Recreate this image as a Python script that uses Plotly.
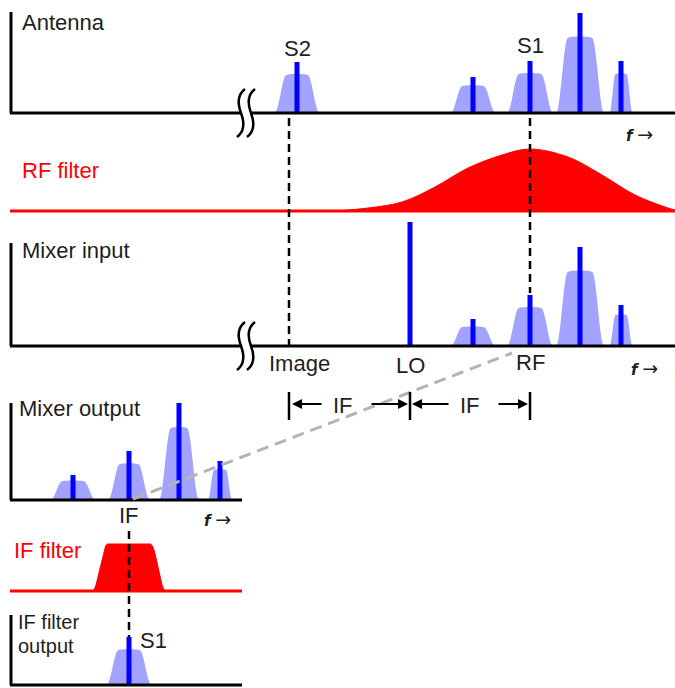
import math
import plotly.graph_objects as go

W, H = 675, 688

# ---------------- data (frequencies in arbitrary units, levels in arbitrary units) -------------
# Antenna spectrum
ant_freq = [29.7, 47.3, 53.0, 58.0, 62.1]
ant_band_level = [3.8, 2.7, 3.9, 7.5, 3.9]
ant_carrier = [5.1, 3.6, 5.2, 10.0, 5.2]
ant_width = [4.5, 4.5, 4.6, 4.8, 2.3]
ant_labels = ["S2", "", "S1", "", ""]

# RF filter response
rf_filter_f = [33.5, 36.8, 40.2, 43.5, 46.8, 50.2, 53.0, 56.8, 60.2, 63.5, 66.8, 67.5]
rf_filter_g = [0.0, 0.3, 0.9, 2.4, 4.3, 5.6, 6.2, 5.4, 3.6, 1.6, 0.3, 0.1]

# Mixer input
mix_in_freq = [47.3, 53.0, 58.0, 62.1]
mix_in_band_level = [1.9, 3.8, 7.4, 3.1]
mix_in_carrier = [2.7, 5.1, 9.9, 4.1]
mix_in_width = [4.5, 4.6, 4.8, 2.3]
LO_freq = 41.0
LO_level = 12.4
RF_freq = 53.0
IMAGE_freq = 28.9
IF_freq = 12.0

# Mixer output (IF frequency axis)
mix_out_freq = [6.4, 12.0, 17.0, 21.1]
mix_out_band_level = [1.9, 3.6, 7.2, 3.0]
mix_out_carrier = [2.5, 4.9, 9.7, 3.9]
mix_out_width = [4.5, 4.2, 4.0, 2.4]

# IF filter
if_filter_center = 12.0
if_filter_width = 7.3
if_filter_level = 4.7

# IF filter output
if_out_freq = [12.0]
if_out_band_level = [3.5]
if_out_carrier = [4.8]
if_out_width = [4.5]
if_out_labels = ["S1"]

# ---------------- styling ----------------
BAND = "#a2a2ff"
CARRIER = "#0000ff"
RED = "#ff0000"
TXT = "#1e1e1e"
FONT = "Liberation Sans, Arial, sans-serif"
FS = 22


def py(p):
    return 1 - p / H


def pxp(p):
    return p / W


def fx(p):          # main frequency axis: pixel -> frequency
    return p / 10.0


def fx2(p):         # IF frequency axis: pixel -> frequency
    return (p - 9) / 10.0


# panels: (baseline px, top px, x axis)
panels = {
    "y":  (113, 0, "x"),
    "y2": (211, 140, "x"),
    "y3": (346, 215, "x"),
    "y4": (500, 395, "x2"),
    "y5": (591, 535, "x2"),
    "y6": (685, 605, "x2"),
}

fig = go.Figure()


def outline(c, w, h, e):
    """Flat-topped band outline with smooth (raised-cosine) edges."""
    x0, x1 = c - w / 2, c + w / 2
    n = 8
    xs, ys = [], []
    for i in range(n + 1):
        t = i / n
        xs.append(x0 + e * t)
        ys.append(h * (1 - math.cos(math.pi * t)) / 2)
    for i in range(n + 1):
        t = i / n
        xs.append(x1 - e + e * t)
        ys.append(h * (1 + math.cos(math.pi * t)) / 2)
    return xs, ys


def band_traces(freqs, levels, widths, carriers, xa, ya, fill=BAND):
    for c, h, w in zip(freqs, levels, widths):
        e = 1.2 if w > 3 else 0.6
        xs, ys = outline(c, w, h, e)
        fig.add_trace(go.Scatter(x=xs, y=ys, mode="lines", fill="toself",
                                 fillcolor=fill, line=dict(width=0, color=fill, shape="spline"),
                                 xaxis=xa, yaxis=ya, hoverinfo="skip"))
    if carriers:
        xs, ys = [], []
        for c, h in zip(freqs, carriers):
            xs += [c, c, None]
            ys += [0, h, None]
        fig.add_trace(go.Scatter(x=xs, y=ys, mode="lines",
                                 line=dict(width=5, color=CARRIER),
                                 xaxis=xa, yaxis=ya, hoverinfo="skip"))


# Antenna
band_traces(ant_freq, ant_band_level, ant_width, ant_carrier, "x", "y")

# RF filter
fig.add_trace(go.Scatter(x=[fx(10), fx(675)], y=[0, 0], mode="lines",
                         line=dict(color=RED, width=3), xaxis="x", yaxis="y2", hoverinfo="skip"))
fig.add_trace(go.Scatter(x=rf_filter_f, y=rf_filter_g, mode="lines", fill="tozeroy",
                         fillcolor=RED, line=dict(color=RED, width=1, shape="spline"),
                         xaxis="x", yaxis="y2", hoverinfo="skip"))

# Mixer input
band_traces(mix_in_freq, mix_in_band_level, mix_in_width, mix_in_carrier, "x", "y3")
fig.add_trace(go.Scatter(x=[LO_freq, LO_freq], y=[0, LO_level], mode="lines",
                         line=dict(width=5, color=CARRIER), xaxis="x", yaxis="y3", hoverinfo="skip"))

# Mixer output
band_traces(mix_out_freq, mix_out_band_level, mix_out_width, mix_out_carrier, "x2", "y4")

# IF filter
fig.add_trace(go.Scatter(x=[fx2(10), fx2(242)], y=[0, 0], mode="lines",
                         line=dict(color=RED, width=3), xaxis="x2", yaxis="y5", hoverinfo="skip"))
xs, ys = outline(if_filter_center, if_filter_width, if_filter_level, 1.5)
fig.add_trace(go.Scatter(x=xs, y=ys, mode="lines", fill="toself", fillcolor=RED,
                         line=dict(width=1, color=RED), xaxis="x2", yaxis="y5", hoverinfo="skip"))

# IF filter output
band_traces(if_out_freq, if_out_band_level, if_out_width, if_out_carrier, "x2", "y6")

# ---------------- shapes ----------------
shapes = []
AX = dict(color="black", width=3)


def seg(xref, yref, x0, y0, x1, y1, line):
    shapes.append(dict(type="line", xref=xref, yref=yref, x0=x0, y0=y0, x1=x1, y1=y1,
                       line=line, layer="above"))


# axes (vertical + baselines)
seg("x", "y", fx(11), 0, fx(11), (113 - 12) / 10, AX)
seg("x", "y", fx(10), 0, fx(241), 0, AX)
seg("x", "y", fx(251), 0, fx(675), 0, AX)
seg("x", "y3", fx(11), 0, fx(11), (346 - 243) / 10, AX)
seg("x", "y3", fx(10), 0, fx(241), 0, AX)
seg("x", "y3", fx(251), 0, fx(675), 0, AX)
seg("x2", "y4", fx2(11), 0, fx2(11), (500 - 403) / 10, AX)
seg("x2", "y4", fx2(10), 0, fx2(242), 0, AX)
seg("x2", "y6", fx2(11), 0, fx2(11), (685 - 615) / 10, AX)
seg("x2", "y6", fx2(10), 0, fx2(242), 0, AX)


# axis break symbols
def brk(x, B):
    pts = [(x + 4, B - 24), (x - 4, B - 18), (x - 3, B - 8), (x, B),
           (x + 3, B + 8), (x + 4, B + 18), (x - 4, B + 24)]
    p = [f"{pxp(a):.5f},{py(b):.5f}" for a, b in pts]
    return f"M {p[0]} C {p[1]} {p[2]} {p[3]} C {p[4]} {p[5]} {p[6]}"


for B in (113, 346):
    for xx in (241, 251):
        shapes.append(dict(type="path", xref="paper", yref="paper", path=brk(xx, B),
                           line=dict(color="black", width=2.5), layer="above"))

DASH = dict(color="black", width=2.5, dash="8px,5px")
seg("x", "paper", IMAGE_freq, py(118), IMAGE_freq, py(346), DASH)
seg("x", "paper", RF_freq, py(118), RF_freq, py(293), DASH)
seg("x2", "paper", IF_freq, py(531), IF_freq, py(637), DASH)

# grey dashed connector (RF -> IF)
seg("x", "paper", fx(133), py(499), fx(512), py(353),
    dict(color="#b4b4b4", width=3, dash="12px,7px"))

# IF bracket ticks
for f in (IMAGE_freq, LO_freq, RF_freq):
    seg("x", "paper", f, py(392), f, py(420), dict(color="black", width=2.5))

# ---------------- annotations ----------------
ann = []


def txt(text, x, y, xref="paper", xanchor="left", color=TXT, size=FS, family=FONT):
    ann.append(dict(text=text, x=x, y=y, xref=xref, yref="paper", xanchor=xanchor,
                    yanchor="middle", showarrow=False,
                    font=dict(family=family, size=size, color=color)))


FARROW = "<b><i>f</i></b> <span style='font-size:19px'>→</span>"
FAF = "DejaVu Sans, sans-serif"
txt("Antenna", pxp(20), py(22))
for f, lab in zip(ant_freq, ant_labels):
    if lab:
        txt(lab, f, py(45 if lab == "S1" else 48), xref="x", xanchor="center")
txt(FARROW, pxp(624), py(134), size=15, family=FAF)
txt("RF filter", pxp(20), py(170), color=RED)
txt("Mixer input", pxp(20), py(250))
txt("Image", pxp(299), py(363), xanchor="center")
txt("LO", LO_freq, py(365), xref="x", xanchor="center")
txt("RF", RF_freq, py(362), xref="x", xanchor="center")
txt(FARROW, pxp(629), py(368), size=15, family=FAF)
txt("IF", pxp(343), py(405), xanchor="center")
txt("IF", pxp(470), py(405), xanchor="center")
txt("Mixer output", pxp(17), py(408))
txt("IF", IF_freq, py(515), xref="x2", xanchor="center")
txt(FARROW, pxp(202), py(519), size=15, family=FAF)
txt("IF filter", pxp(12), py(550), color=RED)
txt("IF filter", pxp(16), py(622), size=20)
txt("output", pxp(16), py(646), size=20)
for f, lab in zip(if_out_freq, if_out_labels):
    txt(lab, f + fx2(153) - fx2(129), py(640), xref="x2", xanchor="center")

# bracket arrows
for tail, head in ((323, 292), (370, 408), (450, 412), (497, 528)):
    ann.append(dict(x=fx(head), y=py(404), ax=fx(tail), ay=0, xref="x", yref="paper",
                    axref="x", ayref="pixel", text="", showarrow=True,
                    arrowhead=2, arrowsize=1, arrowwidth=2, arrowcolor="black", standoff=0))

# ---------------- layout ----------------
layout = dict(width=W, height=H, margin=dict(l=0, r=0, t=0, b=0), autosize=False,
              paper_bgcolor="white", plot_bgcolor="rgba(0,0,0,0)", showlegend=False,
              shapes=shapes, annotations=ann)
hid = dict(visible=False, showgrid=False, zeroline=False, fixedrange=True)
layout["xaxis"] = dict(domain=[0, 1], range=[0, 67.5], anchor="y", **hid)
layout["xaxis2"] = dict(domain=[0, 1], range=[-0.9, 66.6], anchor="y4", **hid)
for name, (base, top, xa) in panels.items():
    pad = min(8, H - base)
    key = "yaxis" if name == "y" else "yaxis" + name[1:]
    layout[key] = dict(domain=[(H - base - pad) / H, (H - top) / H],
                       range=[-pad / 10, (base - top) / 10], anchor=xa, **hid)
fig.update_layout(**layout)

fig.write_html("out.html", config={"displayModeBar": False},
               post_script="document.body.style.margin='0';")
